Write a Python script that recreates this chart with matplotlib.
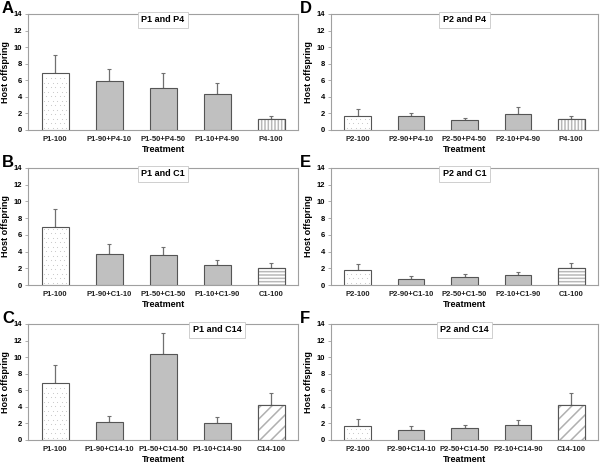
import numpy as np
import matplotlib
matplotlib.use("Agg")
import matplotlib.pyplot as plt

plt.rcParams['font.family'] = ['Liberation Sans', 'DejaVu Sans']
plt.rcParams['hatch.linewidth'] = 1.1

# panel data: labels, means, upper error (SE)
labels_A = ['P1-100', 'P1-90+P4-10', 'P1-50+P4-50', 'P1-10+P4-90', 'P4-100']
means_A = [6.9, 5.9, 5.1, 4.35, 1.35]
errs_A = [2.2, 1.5, 1.8, 1.3, 0.4]

labels_B = ['P1-100', 'P1-90+C1-10', 'P1-50+C1-50', 'P1-10+C1-90', 'C1-100']
means_B = [6.9, 3.68, 3.56, 2.35, 2.05]
errs_B = [2.2, 1.25, 0.95, 0.6, 0.55]

labels_C = ['P1-100', 'P1-90+C14-10', 'P1-50+C14-50', 'P1-10+C14-90', 'C14-100']
means_C = [6.9, 2.15, 10.35, 2.1, 4.2]
errs_C = [2.2, 0.7, 2.6, 0.65, 1.5]

labels_D = ['P2-100', 'P2-90+P4-10', 'P2-50+P4-50', 'P2-10+P4-90', 'P4-100']
means_D = [1.75, 1.65, 1.15, 1.9, 1.35]
errs_D = [0.75, 0.45, 0.35, 0.85, 0.4]

labels_E = ['P2-100', 'P2-90+C1-10', 'P2-50+C1-50', 'P2-10+C1-90', 'C1-100']
means_E = [1.75, 0.68, 0.92, 1.16, 2.05]
errs_E = [0.75, 0.4, 0.4, 0.38, 0.55]

labels_F = ['P2-100', 'P2-90+C14-10', 'P2-50+C14-50', 'P2-10+C14-90', 'C14-100']
means_F = [1.7, 1.2, 1.4, 1.8, 4.2]
errs_F = [0.8, 0.5, 0.42, 0.65, 1.5]

titles = ['P1 and P4', 'P1 and C1', 'P1 and C14', 'P2 and P4', 'P2 and C1', 'P2 and C14']
letters = ['A', 'B', 'C', 'D', 'E', 'F']
last_hatch = {'P4-100': '|||||', 'C1-100': '-----', 'C14-100': '///'}
last_hcol = {'P4-100': '#b8b8b8', 'C1-100': '#b8b8b8', 'C14-100': '#b0b0b0'}

W, H = 600, 463
fig = plt.figure(figsize=(6, 4.63), dpi=100)

# pixel boxes
rows = [(14, 130), (168, 285), (324, 440)]
cols = [(28, 298), (331, 598)]

panels = [
    (labels_A, means_A, errs_A), (labels_B, means_B, errs_B), (labels_C, means_C, errs_C),
    (labels_D, means_D, errs_D), (labels_E, means_E, errs_E), (labels_F, means_F, errs_F),
]
title_x = [0.5, 0.5, 0.7, 0.5, 0.5, 0.5]

spine_col = '#a0a0a0'
edge_col = '#555555'
bw = 0.5

for i, (labels, means, errs) in enumerate(panels):
    c = i // 3
    r = i % 3
    l, rgt = cols[c]
    t, b = rows[r]
    ax = fig.add_axes([l / W, 1 - b / H, (rgt - l) / W, (b - t) / H])
    ax.set_xlim(-0.5, len(labels) - 0.5)
    ax.set_ylim(0, 14)
    x = np.arange(len(labels))
    fills = ['white'] + ['#c0c0c0'] * 3 + ['white']

    for xi, m, f in zip(x, means, fills):
        ax.bar(xi, m, width=bw, color=f, edgecolor=edge_col, linewidth=0.8, zorder=3)

    # hatched last bar
    ax.bar(x[-1], means[-1], width=bw, color='white', edgecolor=last_hcol[labels[-1]],
           hatch=last_hatch[labels[-1]], linewidth=0, zorder=3.5)
    ax.bar(x[-1], means[-1], width=bw, color='none', edgecolor=edge_col, linewidth=0.8, zorder=3.6)

    # faint dot texture in first bar (staggered grid, ~4 px)
    px_x = (rgt - l) / (len(labels))
    px_y = (b - t) / 14.0
    dx = 4.5 / px_x
    dy = 4.5 / px_y
    ys = np.arange(dy / 2, means[0] - dy / 4, dy)
    pts_x, pts_y = [], []
    for k, yy in enumerate(ys):
        off = dx / 2 if k % 2 else 0
        xs = np.arange(x[0] - bw / 2 + dx / 2 + off, x[0] + bw / 2 - dx / 4, dx)
        pts_x.extend(xs)
        pts_y.extend([yy] * len(xs))
    ax.scatter(pts_x, pts_y, s=0.6, color='#c4c4c4', linewidths=0, zorder=3.2)

    ax.errorbar(x, means, yerr=[np.zeros(len(errs)), errs], fmt='none',
                ecolor='#707070', elinewidth=0.9, capsize=1.2, capthick=0.8, zorder=2)
    ax.set_yticks(range(0, 15, 2))
    ax.set_xticks(x)
    ax.set_xticklabels(labels, fontsize=5.5, fontweight='bold', color='#222222')
    ax.tick_params(axis='x', length=0, pad=4)
    ax.tick_params(axis='y', length=2, width=0.6, color=spine_col, labelsize=5.5, pad=2)
    for lab in ax.get_yticklabels():
        lab.set_fontweight('bold')
    for s in ax.spines.values():
        s.set_color(spine_col)
        s.set_linewidth(0.8)
    ax.set_xlabel('Treatment', fontsize=6.5, fontweight='bold', labelpad=2)
    ax.set_ylabel('Host offspring', fontsize=6.5, fontweight='bold', labelpad=3)
    ax.text(title_x[i], 0.95, titles[i], transform=ax.transAxes, ha='center', va='center',
            fontsize=6.5, fontweight='bold',
            bbox=dict(boxstyle='square,pad=0.4', fc='white', ec='#c8c8c8', lw=0.6), zorder=5)
    fig.text((2 if c == 0 else 300) / W, 1 - (t - 13) / H, letters[i], fontsize=12,
             fontweight='bold', ha='left', va='top')

fig.savefig('out.png', dpi=100)
